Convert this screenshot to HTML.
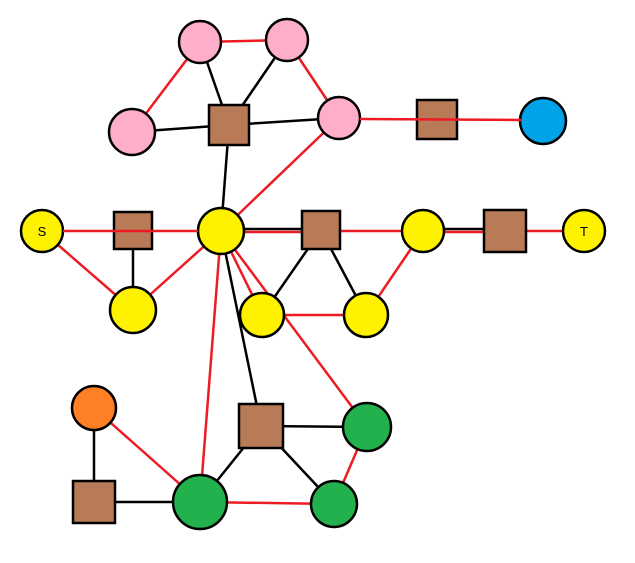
<!DOCTYPE html>
<html><head><style>html,body{margin:0;padding:0;background:#fff}svg{display:block}</style></head><body>
<svg width="635" height="563" xmlns="http://www.w3.org/2000/svg">
<g stroke-width="2.5" fill="none">
<g stroke="#ed1c24">
<line x1="200" y1="42" x2="287" y2="40"/>
<line x1="200" y1="42" x2="132" y2="132"/>
<line x1="287" y1="40" x2="339" y2="118"/>
<line x1="339" y1="118" x2="221" y2="231"/>
<line x1="221" y1="232" x2="321" y2="232"/>
<line x1="321" y1="231" x2="423" y2="231"/>
<line x1="423" y1="232" x2="505" y2="232"/>
<line x1="505" y1="231" x2="584" y2="231"/>
<line x1="42" y1="231" x2="133" y2="310"/>
<line x1="133" y1="310" x2="221" y2="231"/>
<line x1="221" y1="231" x2="262" y2="315"/>
<line x1="262" y1="315" x2="366" y2="315"/>
<line x1="366" y1="315" x2="423" y2="231"/>
<line x1="221" y1="231" x2="367" y2="427"/>
<line x1="221" y1="231" x2="200" y2="502"/>
<line x1="94" y1="408" x2="200" y2="502"/>
<line x1="200" y1="502" x2="334" y2="504"/>
<line x1="334" y1="504" x2="367" y2="427"/>
</g>
<g stroke="#000">
<line x1="229" y1="125" x2="200" y2="42"/>
<line x1="229" y1="125" x2="287" y2="40"/>
<line x1="229" y1="125" x2="132" y2="132"/>
<line x1="229" y1="125" x2="339" y2="118"/>
<line x1="229" y1="125" x2="221" y2="231"/>
<line x1="221" y1="229" x2="321" y2="229"/>
<line x1="423" y1="229" x2="505" y2="229"/>
<line x1="133" y1="230" x2="133" y2="310"/>
<line x1="321" y1="230" x2="262" y2="315"/>
<line x1="321" y1="230" x2="366" y2="315"/>
<line x1="221" y1="231" x2="261" y2="426"/>
<line x1="94" y1="408" x2="94" y2="502"/>
<line x1="94" y1="502" x2="200" y2="502"/>
<line x1="200" y1="502" x2="261" y2="426"/>
<line x1="261" y1="426" x2="367" y2="427"/>
<line x1="261" y1="426" x2="334" y2="504"/>
</g>
</g>
<g stroke="#000" stroke-width="2.5">
<circle cx="200" cy="42" r="21" fill="#ffaec9"/>
<circle cx="287" cy="40" r="21" fill="#ffaec9"/>
<circle cx="132" cy="132" r="23" fill="#ffaec9"/>
<circle cx="339" cy="118" r="21" fill="#ffaec9"/>
<circle cx="543" cy="121" r="23" fill="#00a2e8"/>
<circle cx="42" cy="231" r="21" fill="#fff200"/>
<circle cx="221" cy="231" r="23" fill="#fff200"/>
<circle cx="423" cy="231" r="21" fill="#fff200"/>
<circle cx="584" cy="231" r="21" fill="#fff200"/>
<circle cx="133" cy="310" r="23" fill="#fff200"/>
<circle cx="262" cy="315" r="22" fill="#fff200"/>
<circle cx="366" cy="315" r="22" fill="#fff200"/>
<circle cx="94" cy="408" r="22" fill="#ff7f27"/>
<circle cx="367" cy="427" r="24" fill="#22b14c"/>
<circle cx="200" cy="502" r="27" fill="#22b14c"/>
<circle cx="334" cy="504" r="23" fill="#22b14c"/>
<g fill="#b97a57">
<rect x="209" y="105" width="40" height="40"/>
<rect x="417" y="100" width="40" height="39"/>
<rect x="114" y="212" width="38" height="37"/>
<rect x="302" y="211" width="38" height="38"/>
<rect x="484" y="210" width="42" height="42"/>
<rect x="239" y="404" width="44" height="44"/>
<rect x="73" y="481" width="42" height="42"/>
</g>
</g>
<g stroke="#ed1c24" stroke-width="2.5">
<line x1="63" y1="231" x2="198" y2="231"/>
<line x1="360" y1="119" x2="521" y2="120"/>
</g>
<g font-family="Liberation Sans, sans-serif" font-size="13" text-anchor="middle">
<text x="42" y="236">S</text>
<text x="584" y="236">T</text>
</g>
</svg>
</body></html>
